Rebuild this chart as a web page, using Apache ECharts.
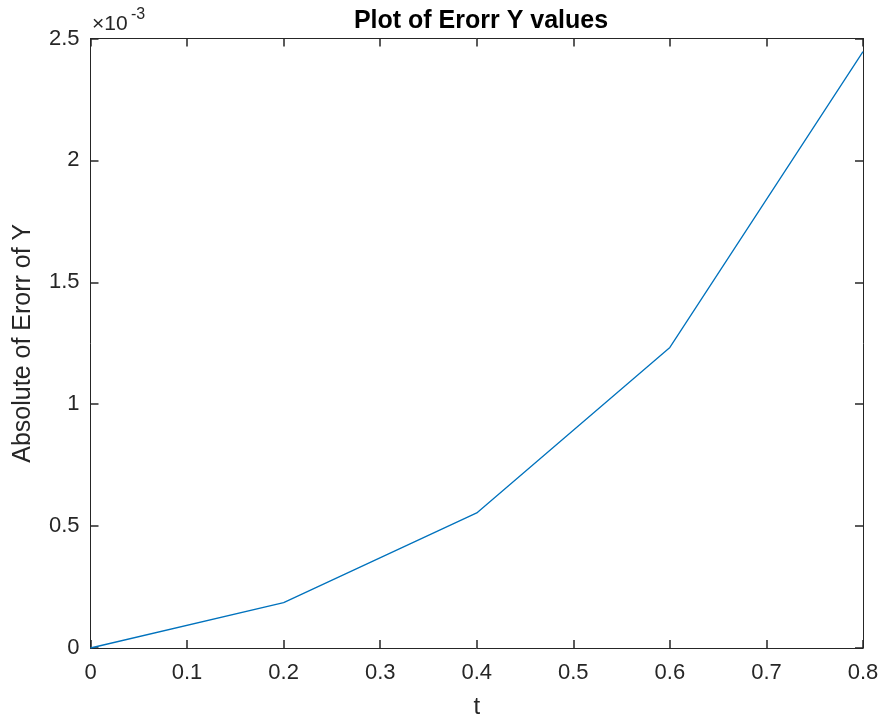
<!DOCTYPE html>
<html>
<head>
<meta charset="utf-8">
<script src="https://cdn.jsdelivr.net/npm/echarts@6/dist/echarts.min.js"></script>
<style>html,body{margin:0;padding:0;background:#fff}#c{width:880px;height:717px}</style>
</head>
<body>
<div id="c"></div>
<script>
// t values
var tValues = [0, 0.2, 0.4, 0.6, 0.8];
// absolute error of Y, in units of 1e-3
var errY_e3 = [0, 0.186, 0.554, 1.233, 2.446];
var xTicks = [0, 0.1, 0.2, 0.3, 0.4, 0.5, 0.6, 0.7, 0.8];
var yTicks = [0, 0.5, 1, 1.5, 2, 2.5];

var FONT = '"Liberation Sans", Arial, sans-serif';
var AX = '#262626';
var pts = tValues.map(function (t, i) { return [t, errY_e3[i]]; });

var chart = echarts.init(document.getElementById('c'), null, { renderer: 'canvas' });
function axisBase(extra) {
  var o = {
    axisLine: { show: true, onZero: false, lineStyle: { color: AX, width: 1 } },
    axisTick: { show: true, inside: true, length: 8, lineStyle: { color: AX, width: 1.5 } },
    splitLine: { show: false },
    axisLabel: { show: false }
  };
  for (var k in extra) o[k] = extra[k];
  return o;
}
chart.setOption({
  animation: false,
  backgroundColor: '#ffffff',
  title: {
    text: 'Plot of Erorr Y values',
    left: 476, top: 4, textAlign: 'center',
    textStyle: { fontFamily: FONT, fontWeight: 'bold', fontSize: 25, color: '#000' }
  },
  grid: { left: 90.5, right: 17, top: 38.5, bottom: 69, containLabel: false, outerBoundsMode: 'none' },
  xAxis: [
    axisBase({
      type: 'value', min: xTicks[0], max: xTicks[xTicks.length - 1], interval: 0.1,
      position: 'bottom',
      name: 't', nameLocation: 'middle', nameGap: 47,
      nameTextStyle: { fontFamily: FONT, fontSize: 24, color: AX },
      axisLabel: { show: true, margin: 14, fontFamily: FONT, fontSize: 22, color: AX,
        formatter: function (v) { return String(+v.toFixed(2)); } }
    }),
    axisBase({ type: 'value', min: xTicks[0], max: xTicks[xTicks.length - 1], interval: 0.1, position: 'top' })
  ],
  yAxis: [
    axisBase({
      type: 'value', min: yTicks[0], max: yTicks[yTicks.length - 1], interval: 0.5,
      position: 'left',
      name: 'Absolute of Erorr of Y', nameLocation: 'middle', nameGap: 55,
      nameTextStyle: { fontFamily: FONT, fontSize: 25, color: AX },
      axisLabel: { show: true, margin: 11, fontFamily: FONT, fontSize: 22, color: AX,
        formatter: function (v) { return String(+v.toFixed(2)); } }
    }),
    axisBase({ type: 'value', min: yTicks[0], max: yTicks[yTicks.length - 1], interval: 0.5, position: 'right' })
  ],
  graphic: [
    { type: 'text', left: 92, top: 14,
      style: { text: '×10', font: '21px "Liberation Sans", Arial, sans-serif', fill: AX } },
    { type: 'text', left: 131, top: 7,
      style: { text: '-3', font: '16px "Liberation Sans", Arial, sans-serif', fill: AX } }
  ],
  series: [{
    type: 'line',
    data: pts,
    xAxisIndex: 0, yAxisIndex: 0,
    showSymbol: false, symbol: 'none',
    lineStyle: { color: '#0072BD', width: 1.3 },
    itemStyle: { color: '#0072BD' }
  }]
});
</script>
</body>
</html>
